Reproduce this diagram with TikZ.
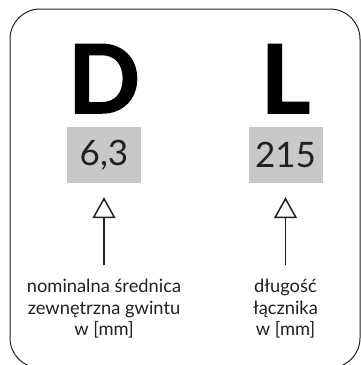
\documentclass[tikz,border=0pt]{standalone}
\usepackage{fontspec}
\setmainfont{Lato}
\newfontfamily\heavyfont{Lato}[BoldFeatures={FakeBold=1.6}]
\usetikzlibrary{arrows.meta,positioning}
\definecolor{valgray}{RGB}{200,200,200}
\definecolor{ink}{RGB}{35,31,32}

\tikzset{
  bigletter/.style={font=\fontsize{95}{95}\heavyfont\bfseries,text=black,inner sep=0pt},
  valbox/.style={fill=valgray,minimum width=74pt,minimum height=56pt,inner sep=0pt,
    font=\fontsize{35}{35}\selectfont,text=ink},
  desc/.style={align=center,font=\fontsize{18.3}{21.5}\selectfont,text=ink,inner sep=0pt},
  pointer/.style={line width=1.6pt,draw=ink,-{Triangle[open,width=23pt,length=21pt,line width=1.5pt]}}
}

\begin{document}
\begin{tikzpicture}[x=1pt,y=-1pt]
  \useasboundingbox (0,0) rectangle (361,365);
  \draw[line width=1pt,ink,rounded corners=30pt] (10,9) rectangle (360,368);
  % symbols, values and what they mean
  \foreach \n/\sym/\val/\cx in {d/D/{6,3}/104,l/L/215/285.5}{
    \node[bigletter,anchor=base] (\n-letter) at (\cx,113) {\sym};
    \node[valbox] (\n-val) at (\cx,155) {\val};
  }
  \node[desc,anchor=north] (d-desc) at (104,279) {nominalna średnica\\zewnętrzna gwintu\\w [mm]};
  \node[desc,anchor=north] (l-desc) at (285.5,279) {długość\\łącznika\\w [mm]};
  \draw[pointer] ([yshift=14pt]d-desc.north) -- ([yshift=-14pt]d-val.south);
  \draw[pointer] ([yshift=14pt]l-desc.north) -- ([yshift=-14pt]l-val.south);
\end{tikzpicture}
\end{document}
